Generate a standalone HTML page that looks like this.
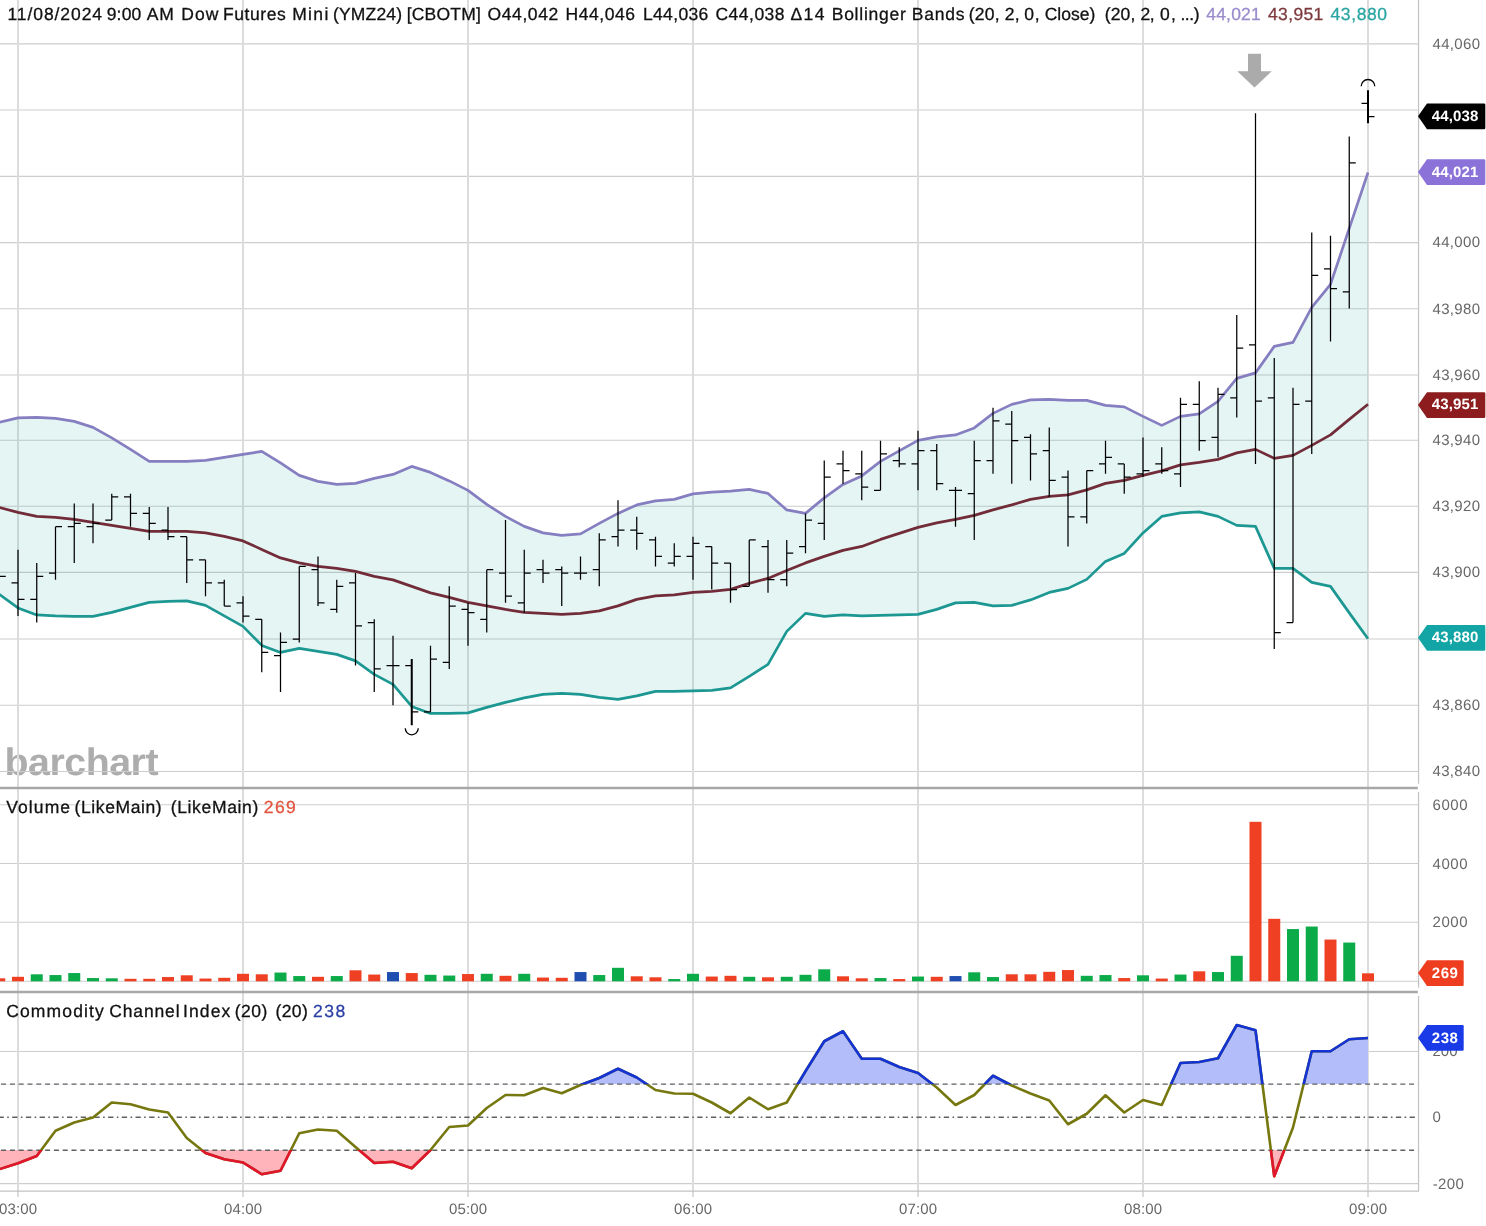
<!DOCTYPE html>
<html lang="en"><head><meta charset="utf-8"><title>Dow Futures Mini (YMZ24) chart</title>
<style>html,body{margin:0;padding:0;background:#fff;}text{-webkit-font-smoothing:antialiased;text-rendering:geometricPrecision;}body{width:1486px;height:1226px;overflow:hidden;}svg{display:block;}</style>
</head><body>
<svg width="1486" height="1226" viewBox="0 0 1486 1226" font-family="'Liberation Sans', sans-serif">
<rect width="1486" height="1226" fill="#fff"/>
<defs>
<clipPath id="cpMain"><rect x="0" y="0" width="1418" height="787"/></clipPath>
<clipPath id="cpUp"><rect x="0" y="992" width="1418" height="92.25"/></clipPath>
<clipPath id="cpDn"><rect x="0" y="1150" width="1418" height="40"/></clipPath>
<clipPath id="cpAll"><rect x="0" y="0" width="1418" height="1192"/></clipPath>
</defs>
<text style="filter:opacity(1)" x="4.5" y="775" font-size="38.3" font-weight="bold" fill="#adadad" textLength="153.5" lengthAdjust="spacingAndGlyphs" letter-spacing="-0.5">barchart</text>
<path d="M0 43.90H1418 M0 110.00H1418 M0 176.40H1418 M0 242.60H1418 M0 308.70H1418 M0 375.00H1418 M0 440.20H1418 M0 506.30H1418 M0 572.35H1418 M0 639.00H1418 M0 705.20H1418 M0 771.45H1418 M0 804.80H1418 M0 863.50H1418 M0 922.30H1418 M0 981.30H1418 M0 1051.50H1418 M0 1183.60H1418" stroke="#cdcdcd" stroke-width="1.1" fill="none"/>
<path d="M18 0V1197 M243 0V1197 M468 0V1197 M693 0V1197 M918 0V1197 M1143 0V1197 M1368 0V1197" stroke="#dcdcdc" stroke-width="2" fill="none"/>
<path d="M1418.55 0V783.7 M1418.55 792V987.7 M1418.55 996V1191.5 M0 1191.2H1419" stroke="#c2c2c2" stroke-width="1.2" fill="none"/>
<path d="M0 788H1417.8 M0 992H1417.8" stroke="#a8a8a8" stroke-width="2.4" fill="none"/>
<polygon clip-path="url(#cpMain)" points="-0.75,422.40 18.00,417.90 36.75,417.40 55.50,418.40 74.25,421.40 93.00,427.40 111.75,437.90 130.50,449.40 149.25,461.40 168.00,461.40 186.75,461.40 205.50,460.40 224.25,457.40 243.00,454.40 261.75,451.40 280.50,462.90 299.25,475.40 318.00,481.40 336.75,484.40 355.50,483.40 374.25,478.40 393.00,474.40 411.75,466.40 430.50,472.40 449.25,480.90 468.00,490.40 486.75,504.40 505.50,516.40 524.25,526.40 543.00,532.90 561.75,535.40 580.50,533.90 599.25,523.40 618.00,513.40 636.75,504.90 655.50,500.90 674.25,499.40 693.00,493.90 711.75,492.15 730.50,491.15 749.25,489.40 768.00,493.40 786.75,509.90 805.50,513.40 824.25,497.90 843.00,484.40 861.75,475.90 880.50,461.40 899.25,450.90 918.00,440.40 936.75,436.90 955.50,434.90 974.25,427.90 993.00,413.40 1011.75,404.40 1030.50,399.90 1049.25,399.40 1068.00,400.40 1086.75,400.40 1105.50,405.40 1124.25,406.90 1143.00,416.40 1161.75,425.40 1180.50,416.40 1199.25,413.90 1218.00,401.40 1236.75,378.40 1255.50,372.90 1274.25,346.40 1293.00,342.40 1311.75,307.40 1330.50,284.40 1349.25,228.40 1368.00,172.50 1368.00,638.70 1349.25,612.90 1330.50,586.40 1311.75,582.40 1293.00,568.40 1274.25,568.40 1255.50,526.40 1236.75,525.40 1218.00,516.40 1199.25,511.90 1180.50,512.90 1161.75,516.40 1143.00,532.90 1124.25,553.40 1105.50,561.40 1086.75,579.40 1068.00,588.40 1049.25,592.40 1030.50,599.90 1011.75,605.40 993.00,605.90 974.25,602.40 955.50,602.90 936.75,609.40 918.00,614.40 899.25,614.90 880.50,615.40 861.75,615.90 843.00,614.90 824.25,616.40 805.50,613.40 786.75,631.40 768.00,664.40 749.25,676.40 730.50,687.90 711.75,690.40 693.00,690.90 674.25,691.40 655.50,691.40 636.75,695.90 618.00,699.40 599.25,697.40 580.50,694.40 561.75,693.40 543.00,694.40 524.25,697.90 505.50,702.40 486.75,707.40 468.00,712.90 449.25,713.40 430.50,713.40 411.75,706.40 393.00,684.40 374.25,674.40 355.50,660.90 336.75,654.40 318.00,651.40 299.25,648.40 280.50,652.40 261.75,645.40 243.00,626.40 224.25,615.90 205.50,605.40 186.75,600.90 168.00,601.40 149.25,602.40 130.50,607.40 111.75,612.40 93.00,616.40 74.25,616.40 55.50,615.90 36.75,614.90 18.00,607.90 -0.75,594.40" fill="rgb(26,165,160)" fill-opacity="0.115"/>
<g clip-path="url(#cpMain)" fill="none" stroke-width="2.7" stroke-linejoin="round">
<polyline points="-0.75,422.40 18.00,417.90 36.75,417.40 55.50,418.40 74.25,421.40 93.00,427.40 111.75,437.90 130.50,449.40 149.25,461.40 168.00,461.40 186.75,461.40 205.50,460.40 224.25,457.40 243.00,454.40 261.75,451.40 280.50,462.90 299.25,475.40 318.00,481.40 336.75,484.40 355.50,483.40 374.25,478.40 393.00,474.40 411.75,466.40 430.50,472.40 449.25,480.90 468.00,490.40 486.75,504.40 505.50,516.40 524.25,526.40 543.00,532.90 561.75,535.40 580.50,533.90 599.25,523.40 618.00,513.40 636.75,504.90 655.50,500.90 674.25,499.40 693.00,493.90 711.75,492.15 730.50,491.15 749.25,489.40 768.00,493.40 786.75,509.90 805.50,513.40 824.25,497.90 843.00,484.40 861.75,475.90 880.50,461.40 899.25,450.90 918.00,440.40 936.75,436.90 955.50,434.90 974.25,427.90 993.00,413.40 1011.75,404.40 1030.50,399.90 1049.25,399.40 1068.00,400.40 1086.75,400.40 1105.50,405.40 1124.25,406.90 1143.00,416.40 1161.75,425.40 1180.50,416.40 1199.25,413.90 1218.00,401.40 1236.75,378.40 1255.50,372.90 1274.25,346.40 1293.00,342.40 1311.75,307.40 1330.50,284.40 1349.25,228.40 1368.00,172.50" stroke="#857ec0"/>
<polyline points="-0.75,594.40 18.00,607.90 36.75,614.90 55.50,615.90 74.25,616.40 93.00,616.40 111.75,612.40 130.50,607.40 149.25,602.40 168.00,601.40 186.75,600.90 205.50,605.40 224.25,615.90 243.00,626.40 261.75,645.40 280.50,652.40 299.25,648.40 318.00,651.40 336.75,654.40 355.50,660.90 374.25,674.40 393.00,684.40 411.75,706.40 430.50,713.40 449.25,713.40 468.00,712.90 486.75,707.40 505.50,702.40 524.25,697.90 543.00,694.40 561.75,693.40 580.50,694.40 599.25,697.40 618.00,699.40 636.75,695.90 655.50,691.40 674.25,691.40 693.00,690.90 711.75,690.40 730.50,687.90 749.25,676.40 768.00,664.40 786.75,631.40 805.50,613.40 824.25,616.40 843.00,614.90 861.75,615.90 880.50,615.40 899.25,614.90 918.00,614.40 936.75,609.40 955.50,602.90 974.25,602.40 993.00,605.90 1011.75,605.40 1030.50,599.90 1049.25,592.40 1068.00,588.40 1086.75,579.40 1105.50,561.40 1124.25,553.40 1143.00,532.90 1161.75,516.40 1180.50,512.90 1199.25,511.90 1218.00,516.40 1236.75,525.40 1255.50,526.40 1274.25,568.40 1293.00,568.40 1311.75,582.40 1330.50,586.40 1349.25,612.90 1368.00,638.70" stroke="#1c9792"/>
<polyline points="-0.75,507.40 18.00,512.40 36.75,516.40 55.50,517.40 74.25,519.40 93.00,522.40 111.75,525.40 130.50,528.40 149.25,531.40 168.00,531.40 186.75,531.40 205.50,532.90 224.25,536.40 243.00,540.90 261.75,549.40 280.50,557.90 299.25,562.90 318.00,566.40 336.75,568.40 355.50,571.40 374.25,576.40 393.00,579.90 411.75,586.40 430.50,592.90 449.25,597.40 468.00,602.40 486.75,605.90 505.50,609.40 524.25,612.40 543.00,613.40 561.75,614.40 580.50,613.40 599.25,610.90 618.00,605.90 636.75,599.40 655.50,595.90 674.25,594.90 693.00,592.40 711.75,591.40 730.50,589.40 749.25,583.40 768.00,578.40 786.75,570.40 805.50,562.90 824.25,556.40 843.00,550.40 861.75,546.40 880.50,539.40 899.25,533.40 918.00,527.40 936.75,522.90 955.50,519.40 974.25,515.40 993.00,509.90 1011.75,504.90 1030.50,499.40 1049.25,496.40 1068.00,494.90 1086.75,489.90 1105.50,483.40 1124.25,480.40 1143.00,475.40 1161.75,470.90 1180.50,464.90 1199.25,462.40 1218.00,459.40 1236.75,452.90 1255.50,449.40 1274.25,458.40 1293.00,455.40 1311.75,445.40 1330.50,434.90 1349.25,419.40 1368.00,404.30" stroke="#722c39"/>
</g>
<path d="M-0.75 556.49V596.17 M-7.25 563.10H-0.75 M-0.75 576.33H5.75 M18.00 549.87V616.01 M11.50 582.94H18.00 M18.00 599.48H24.50 M36.75 563.10V622.62 M30.25 599.48H36.75 M36.75 576.33H43.25 M55.50 526.72V579.63 M49.00 573.02H55.50 M55.50 526.72H62.00 M74.25 503.57V563.10 M67.75 526.72H74.25 M74.25 523.41H80.75 M93.00 503.57V543.26 M86.50 526.72H93.00 M93.00 523.41H99.50 M111.75 493.65V520.11 M105.25 520.11H111.75 M111.75 496.96H118.25 M130.50 493.65V526.72 M124.00 496.96H130.50 M130.50 513.49H137.00 M149.25 506.88V539.95 M142.75 513.49H149.25 M149.25 523.41H155.75 M168.00 506.88V539.95 M161.50 530.03H168.00 M168.00 536.64H174.50 M186.75 536.64V582.94 M180.25 536.64H186.75 M186.75 559.79H193.25 M205.50 559.79V596.17 M199.00 559.79H205.50 M205.50 582.94H212.00 M224.25 579.63V606.09 M217.75 582.94H224.25 M224.25 606.09H230.75 M243.00 596.17V622.62 M236.50 602.78H243.00 M243.00 616.01H249.50 M261.75 619.32V672.23 M255.25 619.32H261.75 M261.75 652.39H268.25 M280.50 632.55V692.07 M274.00 655.69H280.50 M280.50 642.47H287.00 M299.25 566.41V642.47 M292.75 639.16H299.25 M299.25 566.41H305.75 M318.00 556.49V606.09 M311.50 569.71H318.00 M318.00 602.78H324.50 M336.75 579.63V612.70 M330.25 609.40H336.75 M336.75 586.25H343.25 M355.50 573.02V665.62 M349.00 582.94H355.50 M355.50 625.93H362.00 M374.25 619.32V692.07 M367.75 622.62H374.25 M374.25 668.92H380.75 M393.00 635.85V705.30 M386.50 665.62H393.00 M393.00 665.62H399.50 M405.25 665.62H411.75 M411.75 711.91H418.25 M430.50 645.77V711.91 M424.00 711.91H430.50 M430.50 659.00H437.00 M449.25 586.25V668.92 M442.75 662.31H449.25 M449.25 606.09H455.75 M468.00 602.78V645.77 M461.50 609.40H468.00 M468.00 612.70H474.50 M486.75 569.71V632.55 M480.25 619.32H486.75 M486.75 569.71H493.25 M505.50 520.11V602.78 M499.00 573.02H505.50 M505.50 596.17H512.00 M524.25 549.87V612.70 M517.75 602.78H524.25 M524.25 573.02H530.75 M543.00 559.79V582.94 M536.50 569.71H543.00 M543.00 573.02H549.50 M561.75 566.41V606.09 M555.25 569.71H561.75 M561.75 573.02H568.25 M580.50 556.49V579.63 M574.00 573.02H580.50 M580.50 573.02H587.00 M599.25 533.34V586.25 M592.75 569.71H599.25 M599.25 539.95H605.75 M618.00 500.27V546.56 M611.50 536.64H618.00 M618.00 530.03H624.50 M636.75 516.80V549.87 M630.25 530.03H636.75 M636.75 533.34H643.25 M655.50 536.64V566.41 M649.00 539.95H655.50 M655.50 556.49H662.00 M674.25 543.26V566.41 M667.75 563.10H674.25 M674.25 556.49H680.75 M693.00 536.64V579.63 M686.50 556.49H693.00 M693.00 543.26H699.50 M711.75 546.56V589.55 M705.25 546.56H711.75 M711.75 563.10H718.25 M730.50 563.10V602.78 M724.00 563.10H730.50 M730.50 589.55H737.00 M749.25 539.95V586.25 M742.75 586.25H749.25 M749.25 539.95H755.75 M768.00 539.95V592.86 M761.50 546.56H768.00 M768.00 579.63H774.50 M786.75 539.95V586.25 M780.25 579.63H786.75 M786.75 553.18H793.25 M805.50 513.49V553.18 M799.00 546.56H805.50 M805.50 520.11H812.00 M824.25 460.58V539.95 M817.75 523.41H824.25 M824.25 477.12H830.75 M843.00 450.66V483.73 M836.50 463.89H843.00 M843.00 470.50H849.50 M861.75 450.66V500.27 M855.25 473.81H861.75 M861.75 487.04H868.25 M880.50 440.74V490.34 M874.00 490.34H880.50 M880.50 453.97H887.00 M899.25 447.35V467.20 M892.75 460.58H899.25 M899.25 463.89H905.75 M918.00 430.82V490.34 M911.50 463.89H918.00 M918.00 450.66H924.50 M936.75 444.05V490.34 M930.25 450.66H936.75 M936.75 483.73H943.25 M955.50 487.04V526.72 M949.00 490.34H955.50 M955.50 490.34H962.00 M974.25 440.74V539.95 M967.75 493.65H974.25 M974.25 460.58H980.75 M993.00 407.67V473.81 M986.50 460.58H993.00 M993.00 420.90H999.50 M1011.75 410.98V483.73 M1005.25 424.20H1011.75 M1011.75 440.74H1018.25 M1030.50 434.13V480.42 M1024.00 437.43H1030.50 M1030.50 453.97H1037.00 M1049.25 427.51V496.96 M1042.75 450.66H1049.25 M1049.25 480.42H1055.75 M1068.00 470.50V546.56 M1061.50 477.12H1068.00 M1068.00 516.80H1074.50 M1086.75 470.50V523.41 M1080.25 516.80H1086.75 M1086.75 470.50H1093.25 M1105.50 440.74V473.81 M1099.00 463.89H1105.50 M1105.50 457.27H1112.00 M1124.25 463.89V493.65 M1117.75 463.89H1124.25 M1124.25 477.12H1130.75 M1143.00 437.43V477.12 M1136.50 473.81H1143.00 M1143.00 470.50H1149.50 M1161.75 447.35V473.81 M1155.25 463.89H1161.75 M1161.75 470.50H1168.25 M1180.50 397.75V487.04 M1174.00 473.81H1180.50 M1180.50 404.36H1187.00 M1199.25 381.21V450.66 M1192.75 404.36H1199.25 M1199.25 440.74H1205.75 M1218.00 387.83V457.27 M1211.50 437.43H1218.00 M1218.00 394.44H1224.50 M1236.75 315.07V417.59 M1230.25 397.75H1236.75 M1236.75 348.14H1243.25 M1255.50 113.35V463.89 M1249.00 344.84H1255.50 M1255.50 401.06H1262.00 M1274.25 358.06V649.08 M1267.75 397.75H1274.25 M1274.25 632.55H1280.75 M1293.00 387.83V622.62 M1286.50 622.62H1293.00 M1293.00 404.36H1299.50 M1311.75 232.40V453.97 M1305.25 401.06H1311.75 M1311.75 275.39H1318.25 M1330.50 235.71V341.53 M1324.00 268.78H1330.50 M1330.50 288.62H1337.00 M1349.25 136.50V308.46 M1342.75 291.93H1349.25 M1349.25 162.95H1355.75 M1361.50 103.43H1368.00 M1368.00 116.65H1374.50" stroke="#000" stroke-width="1.25" fill="none"/>
<path d="M411.75 659.00V725.14 M1368.00 90.20V123.27" stroke="#000" stroke-width="2" fill="none"/>
<path d="M1361.20 86.3 A6.8 6.8 0 0 1 1374.80 86.3" stroke="#000" stroke-width="1.3" fill="none"/>
<path d="M405.25 728.3 A6.5 6.5 0 0 0 418.25 728.3" stroke="#000" stroke-width="1.3" fill="none"/>
<path d="M1248.00 53.8H1261.00V71.3H1271.70L1254.50 87.6L1237.30 71.3H1248.00Z" fill="#ababab"/>
<rect x="-6.75" y="978.30" width="12" height="3.00" fill="#f04023"/>
<rect x="12.00" y="976.80" width="12" height="4.50" fill="#f04023"/>
<rect x="30.75" y="974.30" width="12" height="7.00" fill="#0cab4a"/>
<rect x="49.50" y="975.05" width="12" height="6.25" fill="#0cab4a"/>
<rect x="68.25" y="973.05" width="12" height="8.25" fill="#0cab4a"/>
<rect x="87.00" y="978.05" width="12" height="3.25" fill="#0cab4a"/>
<rect x="105.75" y="978.30" width="12" height="3.00" fill="#0cab4a"/>
<rect x="124.50" y="978.80" width="12" height="2.50" fill="#f04023"/>
<rect x="143.25" y="978.80" width="12" height="2.50" fill="#f04023"/>
<rect x="162.00" y="977.05" width="12" height="4.25" fill="#f04023"/>
<rect x="180.75" y="975.30" width="12" height="6.00" fill="#f04023"/>
<rect x="199.50" y="978.55" width="12" height="2.75" fill="#f04023"/>
<rect x="218.25" y="977.80" width="12" height="3.50" fill="#f04023"/>
<rect x="237.00" y="973.80" width="12" height="7.50" fill="#f04023"/>
<rect x="255.75" y="974.30" width="12" height="7.00" fill="#f04023"/>
<rect x="274.50" y="972.55" width="12" height="8.75" fill="#0cab4a"/>
<rect x="293.25" y="976.05" width="12" height="5.25" fill="#0cab4a"/>
<rect x="312.00" y="976.80" width="12" height="4.50" fill="#f04023"/>
<rect x="330.75" y="976.05" width="12" height="5.25" fill="#0cab4a"/>
<rect x="349.50" y="970.30" width="12" height="11.00" fill="#f04023"/>
<rect x="368.25" y="974.55" width="12" height="6.75" fill="#f04023"/>
<rect x="387.00" y="972.05" width="12" height="9.25" fill="#1f4db0"/>
<rect x="405.75" y="973.05" width="12" height="8.25" fill="#f04023"/>
<rect x="424.50" y="974.80" width="12" height="6.50" fill="#0cab4a"/>
<rect x="443.25" y="975.55" width="12" height="5.75" fill="#0cab4a"/>
<rect x="462.00" y="974.05" width="12" height="7.25" fill="#f04023"/>
<rect x="480.75" y="973.80" width="12" height="7.50" fill="#0cab4a"/>
<rect x="499.50" y="975.80" width="12" height="5.50" fill="#f04023"/>
<rect x="518.25" y="973.80" width="12" height="7.50" fill="#0cab4a"/>
<rect x="537.00" y="977.55" width="12" height="3.75" fill="#f04023"/>
<rect x="555.75" y="977.80" width="12" height="3.50" fill="#f04023"/>
<rect x="574.50" y="972.05" width="12" height="9.25" fill="#1f4db0"/>
<rect x="593.25" y="975.05" width="12" height="6.25" fill="#0cab4a"/>
<rect x="612.00" y="967.80" width="12" height="13.50" fill="#0cab4a"/>
<rect x="630.75" y="976.30" width="12" height="5.00" fill="#f04023"/>
<rect x="649.50" y="977.30" width="12" height="4.00" fill="#f04023"/>
<rect x="668.25" y="979.05" width="12" height="2.25" fill="#0cab4a"/>
<rect x="687.00" y="973.80" width="12" height="7.50" fill="#0cab4a"/>
<rect x="705.75" y="976.55" width="12" height="4.75" fill="#f04023"/>
<rect x="724.50" y="975.80" width="12" height="5.50" fill="#f04023"/>
<rect x="743.25" y="976.80" width="12" height="4.50" fill="#0cab4a"/>
<rect x="762.00" y="977.30" width="12" height="4.00" fill="#f04023"/>
<rect x="780.75" y="976.80" width="12" height="4.50" fill="#0cab4a"/>
<rect x="799.50" y="974.80" width="12" height="6.50" fill="#0cab4a"/>
<rect x="818.25" y="969.30" width="12" height="12.00" fill="#0cab4a"/>
<rect x="837.00" y="976.30" width="12" height="5.00" fill="#f04023"/>
<rect x="855.75" y="978.30" width="12" height="3.00" fill="#f04023"/>
<rect x="874.50" y="978.05" width="12" height="3.25" fill="#0cab4a"/>
<rect x="893.25" y="979.05" width="12" height="2.25" fill="#f04023"/>
<rect x="912.00" y="976.55" width="12" height="4.75" fill="#0cab4a"/>
<rect x="930.75" y="976.80" width="12" height="4.50" fill="#f04023"/>
<rect x="949.50" y="976.05" width="12" height="5.25" fill="#1f4db0"/>
<rect x="968.25" y="972.30" width="12" height="9.00" fill="#0cab4a"/>
<rect x="987.00" y="977.05" width="12" height="4.25" fill="#0cab4a"/>
<rect x="1005.75" y="974.30" width="12" height="7.00" fill="#f04023"/>
<rect x="1024.50" y="974.30" width="12" height="7.00" fill="#f04023"/>
<rect x="1043.25" y="971.80" width="12" height="9.50" fill="#f04023"/>
<rect x="1062.00" y="970.05" width="12" height="11.25" fill="#f04023"/>
<rect x="1080.75" y="975.80" width="12" height="5.50" fill="#0cab4a"/>
<rect x="1099.50" y="975.05" width="12" height="6.25" fill="#0cab4a"/>
<rect x="1118.25" y="978.05" width="12" height="3.25" fill="#f04023"/>
<rect x="1137.00" y="975.30" width="12" height="6.00" fill="#0cab4a"/>
<rect x="1155.75" y="978.55" width="12" height="2.75" fill="#f04023"/>
<rect x="1174.50" y="974.55" width="12" height="6.75" fill="#0cab4a"/>
<rect x="1193.25" y="971.30" width="12" height="10.00" fill="#f04023"/>
<rect x="1212.00" y="972.05" width="12" height="9.25" fill="#0cab4a"/>
<rect x="1230.75" y="955.80" width="12" height="25.50" fill="#0cab4a"/>
<rect x="1249.50" y="821.80" width="12" height="159.50" fill="#f04023"/>
<rect x="1268.25" y="918.80" width="12" height="62.50" fill="#f04023"/>
<rect x="1287.00" y="929.05" width="12" height="52.25" fill="#0cab4a"/>
<rect x="1305.75" y="926.55" width="12" height="54.75" fill="#0cab4a"/>
<rect x="1324.50" y="939.55" width="12" height="41.75" fill="#f04023"/>
<rect x="1343.25" y="942.55" width="12" height="38.75" fill="#0cab4a"/>
<rect x="1362.00" y="973.30" width="12" height="8.00" fill="#f04023"/>
<polygon clip-path="url(#cpUp)" points="-0.75,1084.25 -0.75,1169.25 18.00,1163.25 36.75,1156.00 55.50,1130.75 74.25,1122.50 93.00,1117.50 111.75,1102.50 130.50,1104.25 149.25,1109.50 168.00,1112.50 186.75,1138.00 205.50,1153.00 224.25,1159.25 243.00,1162.50 261.75,1174.25 280.50,1170.75 299.25,1133.25 318.00,1129.50 336.75,1130.75 355.50,1147.00 374.25,1163.00 393.00,1161.75 411.75,1168.25 430.50,1150.00 449.25,1127.00 468.00,1125.50 486.75,1108.00 505.50,1095.00 524.25,1095.25 543.00,1088.00 561.75,1093.25 580.50,1085.00 599.25,1078.00 618.00,1068.75 636.75,1077.50 655.50,1090.00 674.25,1093.50 693.00,1093.75 711.75,1102.50 730.50,1113.25 749.25,1097.50 768.00,1109.25 786.75,1102.50 805.50,1071.25 824.25,1041.25 843.00,1031.25 861.75,1058.75 880.50,1058.75 899.25,1067.00 918.00,1073.00 936.75,1087.50 955.50,1105.00 974.25,1095.00 993.00,1075.75 1011.75,1085.50 1030.50,1093.50 1049.25,1100.50 1068.00,1124.25 1086.75,1113.75 1105.50,1095.25 1124.25,1112.50 1143.00,1100.00 1161.75,1105.00 1180.50,1063.00 1199.25,1062.00 1218.00,1058.25 1236.75,1025.00 1255.50,1030.25 1274.25,1176.25 1293.00,1127.50 1311.75,1051.25 1330.50,1051.25 1349.25,1039.25 1368.00,1038.00 1368.00,1084.25" fill="#b3bdfa"/>
<polygon clip-path="url(#cpDn)" points="-0.75,1150.00 -0.75,1169.25 18.00,1163.25 36.75,1156.00 55.50,1130.75 74.25,1122.50 93.00,1117.50 111.75,1102.50 130.50,1104.25 149.25,1109.50 168.00,1112.50 186.75,1138.00 205.50,1153.00 224.25,1159.25 243.00,1162.50 261.75,1174.25 280.50,1170.75 299.25,1133.25 318.00,1129.50 336.75,1130.75 355.50,1147.00 374.25,1163.00 393.00,1161.75 411.75,1168.25 430.50,1150.00 449.25,1127.00 468.00,1125.50 486.75,1108.00 505.50,1095.00 524.25,1095.25 543.00,1088.00 561.75,1093.25 580.50,1085.00 599.25,1078.00 618.00,1068.75 636.75,1077.50 655.50,1090.00 674.25,1093.50 693.00,1093.75 711.75,1102.50 730.50,1113.25 749.25,1097.50 768.00,1109.25 786.75,1102.50 805.50,1071.25 824.25,1041.25 843.00,1031.25 861.75,1058.75 880.50,1058.75 899.25,1067.00 918.00,1073.00 936.75,1087.50 955.50,1105.00 974.25,1095.00 993.00,1075.75 1011.75,1085.50 1030.50,1093.50 1049.25,1100.50 1068.00,1124.25 1086.75,1113.75 1105.50,1095.25 1124.25,1112.50 1143.00,1100.00 1161.75,1105.00 1180.50,1063.00 1199.25,1062.00 1218.00,1058.25 1236.75,1025.00 1255.50,1030.25 1274.25,1176.25 1293.00,1127.50 1311.75,1051.25 1330.50,1051.25 1349.25,1039.25 1368.00,1038.00 1368.00,1150.00" fill="#ffb3bb"/>
<path d="M0 1084.1H1418 M0 1150.3H1418" stroke="#606060" stroke-width="1.4" stroke-dasharray="5 3.8" stroke-dashoffset="-1.1" fill="none"/>
<path d="M0 1117.3H1418" stroke="#606060" stroke-width="1.4" stroke-dasharray="5.3 3.4 1.6 3.4" stroke-dashoffset="1.5" fill="none"/>
<polyline points="-0.75,1169.25 18.00,1163.25 36.75,1156.00 55.50,1130.75 74.25,1122.50 93.00,1117.50 111.75,1102.50 130.50,1104.25 149.25,1109.50 168.00,1112.50 186.75,1138.00 205.50,1153.00 224.25,1159.25 243.00,1162.50 261.75,1174.25 280.50,1170.75 299.25,1133.25 318.00,1129.50 336.75,1130.75 355.50,1147.00 374.25,1163.00 393.00,1161.75 411.75,1168.25 430.50,1150.00 449.25,1127.00 468.00,1125.50 486.75,1108.00 505.50,1095.00 524.25,1095.25 543.00,1088.00 561.75,1093.25 580.50,1085.00 599.25,1078.00 618.00,1068.75 636.75,1077.50 655.50,1090.00 674.25,1093.50 693.00,1093.75 711.75,1102.50 730.50,1113.25 749.25,1097.50 768.00,1109.25 786.75,1102.50 805.50,1071.25 824.25,1041.25 843.00,1031.25 861.75,1058.75 880.50,1058.75 899.25,1067.00 918.00,1073.00 936.75,1087.50 955.50,1105.00 974.25,1095.00 993.00,1075.75 1011.75,1085.50 1030.50,1093.50 1049.25,1100.50 1068.00,1124.25 1086.75,1113.75 1105.50,1095.25 1124.25,1112.50 1143.00,1100.00 1161.75,1105.00 1180.50,1063.00 1199.25,1062.00 1218.00,1058.25 1236.75,1025.00 1255.50,1030.25 1274.25,1176.25 1293.00,1127.50 1311.75,1051.25 1330.50,1051.25 1349.25,1039.25 1368.00,1038.00" stroke="#76780f" stroke-width="2.6" fill="none" stroke-linejoin="round"/>
<polyline clip-path="url(#cpUp)" points="-0.75,1169.25 18.00,1163.25 36.75,1156.00 55.50,1130.75 74.25,1122.50 93.00,1117.50 111.75,1102.50 130.50,1104.25 149.25,1109.50 168.00,1112.50 186.75,1138.00 205.50,1153.00 224.25,1159.25 243.00,1162.50 261.75,1174.25 280.50,1170.75 299.25,1133.25 318.00,1129.50 336.75,1130.75 355.50,1147.00 374.25,1163.00 393.00,1161.75 411.75,1168.25 430.50,1150.00 449.25,1127.00 468.00,1125.50 486.75,1108.00 505.50,1095.00 524.25,1095.25 543.00,1088.00 561.75,1093.25 580.50,1085.00 599.25,1078.00 618.00,1068.75 636.75,1077.50 655.50,1090.00 674.25,1093.50 693.00,1093.75 711.75,1102.50 730.50,1113.25 749.25,1097.50 768.00,1109.25 786.75,1102.50 805.50,1071.25 824.25,1041.25 843.00,1031.25 861.75,1058.75 880.50,1058.75 899.25,1067.00 918.00,1073.00 936.75,1087.50 955.50,1105.00 974.25,1095.00 993.00,1075.75 1011.75,1085.50 1030.50,1093.50 1049.25,1100.50 1068.00,1124.25 1086.75,1113.75 1105.50,1095.25 1124.25,1112.50 1143.00,1100.00 1161.75,1105.00 1180.50,1063.00 1199.25,1062.00 1218.00,1058.25 1236.75,1025.00 1255.50,1030.25 1274.25,1176.25 1293.00,1127.50 1311.75,1051.25 1330.50,1051.25 1349.25,1039.25 1368.00,1038.00" stroke="#1433d6" stroke-width="2.6" fill="none" stroke-linejoin="round"/>
<polyline clip-path="url(#cpDn)" points="-0.75,1169.25 18.00,1163.25 36.75,1156.00 55.50,1130.75 74.25,1122.50 93.00,1117.50 111.75,1102.50 130.50,1104.25 149.25,1109.50 168.00,1112.50 186.75,1138.00 205.50,1153.00 224.25,1159.25 243.00,1162.50 261.75,1174.25 280.50,1170.75 299.25,1133.25 318.00,1129.50 336.75,1130.75 355.50,1147.00 374.25,1163.00 393.00,1161.75 411.75,1168.25 430.50,1150.00 449.25,1127.00 468.00,1125.50 486.75,1108.00 505.50,1095.00 524.25,1095.25 543.00,1088.00 561.75,1093.25 580.50,1085.00 599.25,1078.00 618.00,1068.75 636.75,1077.50 655.50,1090.00 674.25,1093.50 693.00,1093.75 711.75,1102.50 730.50,1113.25 749.25,1097.50 768.00,1109.25 786.75,1102.50 805.50,1071.25 824.25,1041.25 843.00,1031.25 861.75,1058.75 880.50,1058.75 899.25,1067.00 918.00,1073.00 936.75,1087.50 955.50,1105.00 974.25,1095.00 993.00,1075.75 1011.75,1085.50 1030.50,1093.50 1049.25,1100.50 1068.00,1124.25 1086.75,1113.75 1105.50,1095.25 1124.25,1112.50 1143.00,1100.00 1161.75,1105.00 1180.50,1063.00 1199.25,1062.00 1218.00,1058.25 1236.75,1025.00 1255.50,1030.25 1274.25,1176.25 1293.00,1127.50 1311.75,1051.25 1330.50,1051.25 1349.25,1039.25 1368.00,1038.00" stroke="#e3142d" stroke-width="2.6" fill="none" stroke-linejoin="round"/>
<g style="filter:opacity(1)">
<text x="1432.5" y="48.90" font-size="15" fill="#666666" text-anchor="start" textLength="47.5" lengthAdjust="spacing">44,060</text>
<text x="1432.5" y="246.90" font-size="15" fill="#666666" text-anchor="start" textLength="47.5" lengthAdjust="spacing">44,000</text>
<text x="1432.5" y="313.90" font-size="15" fill="#666666" text-anchor="start" textLength="47.5" lengthAdjust="spacing">43,980</text>
<text x="1432.5" y="380.00" font-size="15" fill="#666666" text-anchor="start" textLength="47.5" lengthAdjust="spacing">43,960</text>
<text x="1432.5" y="444.80" font-size="15" fill="#666666" text-anchor="start" textLength="47.5" lengthAdjust="spacing">43,940</text>
<text x="1432.5" y="510.90" font-size="15" fill="#666666" text-anchor="start" textLength="47.5" lengthAdjust="spacing">43,920</text>
<text x="1432.5" y="576.80" font-size="15" fill="#666666" text-anchor="start" textLength="47.5" lengthAdjust="spacing">43,900</text>
<text x="1432.5" y="710.00" font-size="15" fill="#666666" text-anchor="start" textLength="47.5" lengthAdjust="spacing">43,860</text>
<text x="1432.5" y="776.00" font-size="15" fill="#666666" text-anchor="start" textLength="47.5" lengthAdjust="spacing">43,840</text>
<text x="1432.5" y="809.80" font-size="15" fill="#666666" text-anchor="start" textLength="35" lengthAdjust="spacing">6000</text>
<text x="1432.5" y="869.00" font-size="15" fill="#666666" text-anchor="start" textLength="35" lengthAdjust="spacing">4000</text>
<text x="1432.5" y="927.00" font-size="15" fill="#666666" text-anchor="start" textLength="35" lengthAdjust="spacing">2000</text>
<text x="1432.5" y="1055.90" font-size="15" fill="#666666" text-anchor="start">200</text>
<text x="1432.5" y="1121.90" font-size="15" fill="#666666" text-anchor="start">0</text>
<text x="1432.8" y="1189.00" font-size="15" fill="#666666" text-anchor="start" textLength="31" lengthAdjust="spacing">-200</text>
<text x="-1" y="1214.00" font-size="15" fill="#666666" text-anchor="start" textLength="38" lengthAdjust="spacing">03:00</text>
<text x="243" y="1214.00" font-size="15" fill="#666666" text-anchor="middle" textLength="38" lengthAdjust="spacing">04:00</text>
<text x="468" y="1214.00" font-size="15" fill="#666666" text-anchor="middle" textLength="38" lengthAdjust="spacing">05:00</text>
<text x="693" y="1214.00" font-size="15" fill="#666666" text-anchor="middle" textLength="38" lengthAdjust="spacing">06:00</text>
<text x="918" y="1214.00" font-size="15" fill="#666666" text-anchor="middle" textLength="38" lengthAdjust="spacing">07:00</text>
<text x="1143" y="1214.00" font-size="15" fill="#666666" text-anchor="middle" textLength="38" lengthAdjust="spacing">08:00</text>
<text x="1368" y="1214.00" font-size="15" fill="#666666" text-anchor="middle" textLength="38" lengthAdjust="spacing">09:00</text>
<path d="M1418 116.30L1427 103.40H1484.0Q1485.3 103.40 1485.3 104.70V127.90Q1485.3 129.20 1484.0 129.20H1427Z" fill="#000000"/><text x="1431.8" y="120.80" font-size="15" fill="#fff" text-anchor="start" font-weight="bold" textLength="46.6" lengthAdjust="spacing">44,038</text>
<path d="M1418 172.07L1427 159.17H1484.0Q1485.3 159.17 1485.3 160.47V183.67Q1485.3 184.97 1484.0 184.97H1427Z" fill="#8b72d8"/><text x="1431.8" y="176.90" font-size="15" fill="#fff" text-anchor="start" font-weight="bold" textLength="46.6" lengthAdjust="spacing">44,021</text>
<path d="M1418 405.05L1427 392.15H1484.0Q1485.3 392.15 1485.3 393.45V416.65Q1485.3 417.95 1484.0 417.95H1427Z" fill="#8c1c1e"/><text x="1431.8" y="409.20" font-size="15" fill="#fff" text-anchor="start" font-weight="bold" textLength="46.6" lengthAdjust="spacing">43,951</text>
<path d="M1418 637.80L1427 624.90H1484.0Q1485.3 624.90 1485.3 626.20V649.40Q1485.3 650.70 1484.0 650.70H1427Z" fill="#13a4a5"/><text x="1431.8" y="642.00" font-size="15" fill="#fff" text-anchor="start" font-weight="bold" textLength="46.6" lengthAdjust="spacing">43,880</text>
<path d="M1418 973.10L1427 960.20H1462.4Q1463.7 960.20 1463.7 961.50V984.70Q1463.7 986.00 1462.4 986.00H1427Z" fill="#ee3d1f"/><text x="1431.8" y="978.15" font-size="15" fill="#fff" text-anchor="start" font-weight="bold" textLength="26" lengthAdjust="spacing">269</text>
<path d="M1418 1037.90L1427 1025.00H1462.4Q1463.7 1025.00 1463.7 1026.30V1049.50Q1463.7 1050.80 1462.4 1050.80H1427Z" fill="#1a3ae8"/><text x="1431.8" y="1042.80" font-size="15" fill="#fff" text-anchor="start" font-weight="bold" textLength="26" lengthAdjust="spacing">238</text>
<text x="7.45" y="19.8" font-size="17.5" fill="#111" stroke="#111" stroke-width="0.3" textLength="94.60" lengthAdjust="spacing" xml:space="preserve">11/08/2024</text>
<text x="106.70" y="19.8" font-size="17.5" fill="#111" stroke="#111" stroke-width="0.3" textLength="34.60" lengthAdjust="spacing" xml:space="preserve">9:00</text>
<text x="146.70" y="19.8" font-size="17.5" fill="#111" stroke="#111" stroke-width="0.3" textLength="27.10" lengthAdjust="spacing" xml:space="preserve">AM</text>
<text x="181.20" y="19.8" font-size="17.5" fill="#111" stroke="#111" stroke-width="0.3" textLength="37.10" lengthAdjust="spacing" xml:space="preserve">Dow</text>
<text x="222.95" y="19.8" font-size="17.5" fill="#111" stroke="#111" stroke-width="0.3" textLength="62.85" lengthAdjust="spacing" xml:space="preserve">Futures</text>
<text x="292.20" y="19.8" font-size="17.5" fill="#111" stroke="#111" stroke-width="0.3" textLength="36.10" lengthAdjust="spacing" xml:space="preserve">Mini</text>
<text x="332.95" y="19.8" font-size="17.5" fill="#111" stroke="#111" stroke-width="0.3" textLength="69.10" lengthAdjust="spacing" xml:space="preserve">(YMZ24)</text>
<text x="406.70" y="19.8" font-size="17.5" fill="#111" stroke="#111" stroke-width="0.3" textLength="74.10" lengthAdjust="spacing" xml:space="preserve">[CBOTM]</text>
<text x="487.45" y="19.8" font-size="17.5" fill="#111" stroke="#111" stroke-width="0.3" textLength="70.85" lengthAdjust="spacing" xml:space="preserve">O44,042</text>
<text x="565.45" y="19.8" font-size="17.5" fill="#111" stroke="#111" stroke-width="0.3" textLength="69.60" lengthAdjust="spacing" xml:space="preserve">H44,046</text>
<text x="642.95" y="19.8" font-size="17.5" fill="#111" stroke="#111" stroke-width="0.3" textLength="65.35" lengthAdjust="spacing" xml:space="preserve">L44,036</text>
<text x="715.45" y="19.8" font-size="17.5" fill="#111" stroke="#111" stroke-width="0.3" textLength="69.10" lengthAdjust="spacing" xml:space="preserve">C44,038</text>
<text x="790.45" y="19.8" font-size="17.5" fill="#111" stroke="#111" stroke-width="0.3" textLength="34.10" lengthAdjust="spacing" xml:space="preserve">Δ14</text>
<text x="831.70" y="19.8" font-size="17.5" fill="#111" stroke="#111" stroke-width="0.3" textLength="74.10" lengthAdjust="spacing" xml:space="preserve">Bollinger</text>
<text x="911.70" y="19.8" font-size="17.5" fill="#111" stroke="#111" stroke-width="0.3" textLength="52.85" lengthAdjust="spacing" xml:space="preserve">Bands</text>
<text x="968.70" y="19.8" font-size="17.5" fill="#111" stroke="#111" stroke-width="0.3" textLength="30.85" lengthAdjust="spacing" xml:space="preserve">(20,</text>
<text x="1004.70" y="19.8" font-size="17.5" fill="#111" stroke="#111" stroke-width="0.3" textLength="14.85" lengthAdjust="spacing" xml:space="preserve">2,</text>
<text x="1024.20" y="19.8" font-size="17.5" fill="#111" stroke="#111" stroke-width="0.3" textLength="15.35" lengthAdjust="spacing" xml:space="preserve">0,</text>
<text x="1044.70" y="19.8" font-size="17.5" fill="#111" stroke="#111" stroke-width="0.3" textLength="50.60" lengthAdjust="spacing" xml:space="preserve">Close)</text>
<text x="1104.70" y="19.8" font-size="17.5" fill="#111" stroke="#111" stroke-width="0.3" textLength="30.60" lengthAdjust="spacing" xml:space="preserve">(20,</text>
<text x="1140.45" y="19.8" font-size="17.5" fill="#111" stroke="#111" stroke-width="0.3" textLength="14.10" lengthAdjust="spacing" xml:space="preserve">2,</text>
<text x="1159.95" y="19.8" font-size="17.5" fill="#111" stroke="#111" stroke-width="0.3" textLength="15.85" lengthAdjust="spacing" xml:space="preserve">0,</text>
<text x="1180.45" y="19.8" font-size="17.5" fill="#111" stroke="#111" stroke-width="0.3" textLength="19.10" lengthAdjust="spacing" xml:space="preserve">...)</text>
<text x="1206.20" y="19.8" font-size="17.5" fill="#9a8ccc" stroke="#9a8ccc" stroke-width="0.3" textLength="54.60" lengthAdjust="spacing" xml:space="preserve">44,021</text>
<text x="1267.95" y="19.8" font-size="17.5" fill="#7d3a3e" stroke="#7d3a3e" stroke-width="0.3" textLength="55.35" lengthAdjust="spacing" xml:space="preserve">43,951</text>
<text x="1330.45" y="19.8" font-size="17.5" fill="#2aa5a3" stroke="#2aa5a3" stroke-width="0.3" textLength="56.60" lengthAdjust="spacing" xml:space="preserve">43,880</text>
<text x="6.20" y="812.5" font-size="17.5" fill="#111" stroke="#111" stroke-width="0.3" textLength="63.90" lengthAdjust="spacing" xml:space="preserve">Volume</text>
<text x="74.60" y="812.5" font-size="17.5" fill="#111" stroke="#111" stroke-width="0.3" textLength="87.00" lengthAdjust="spacing" xml:space="preserve">(LikeMain)</text>
<text x="170.70" y="812.5" font-size="17.5" fill="#111" stroke="#111" stroke-width="0.3" textLength="87.60" lengthAdjust="spacing" xml:space="preserve">(LikeMain)</text>
<text x="263.70" y="812.5" font-size="17.5" fill="#e2553f" stroke="#e2553f" stroke-width="0.3" textLength="32.10" lengthAdjust="spacing" xml:space="preserve">269</text>
<text x="6.20" y="1017.0" font-size="17.5" fill="#111" stroke="#111" stroke-width="0.3" textLength="97.60" lengthAdjust="spacing" xml:space="preserve">Commodity</text>
<text x="109.20" y="1017.0" font-size="17.5" fill="#111" stroke="#111" stroke-width="0.3" textLength="70.35" lengthAdjust="spacing" xml:space="preserve">Channel</text>
<text x="182.95" y="1017.0" font-size="17.5" fill="#111" stroke="#111" stroke-width="0.3" textLength="47.35" lengthAdjust="spacing" xml:space="preserve">Index</text>
<text x="234.70" y="1017.0" font-size="17.5" fill="#111" stroke="#111" stroke-width="0.3" textLength="32.60" lengthAdjust="spacing" xml:space="preserve">(20)</text>
<text x="275.45" y="1017.0" font-size="17.5" fill="#111" stroke="#111" stroke-width="0.3" textLength="32.35" lengthAdjust="spacing" xml:space="preserve">(20)</text>
<text x="312.95" y="1017.0" font-size="17.5" fill="#2c3fa6" stroke="#2c3fa6" stroke-width="0.3" textLength="32.35" lengthAdjust="spacing" xml:space="preserve">238</text>
</g>
</svg>
</body></html>
